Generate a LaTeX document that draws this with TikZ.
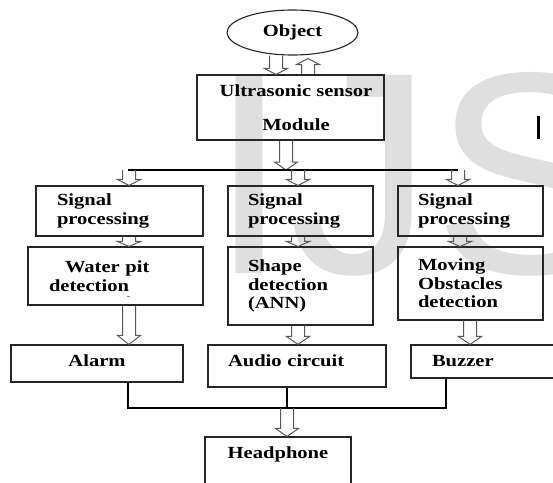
\documentclass[tikz,border=0pt]{standalone}
\usepackage{fontspec}
\setmainfont[FakeStretch=1.21]{Liberation Serif}
\newfontfamily\wmfont{Liberation Sans}
\usetikzlibrary{calc,shapes.geometric}
\newcommand\harrdown[3][7]{\draw[harr] let \p1=#2, \p2=#3 in
 (\x1-6.5pt,\y1) -- (\x1-6.5pt,\y2+#1pt) -- (\x1-11.5pt,\y2+#1pt) -- (\x1,\y2)
 -- (\x1+11.5pt,\y2+#1pt) -- (\x1+6.5pt,\y2+#1pt) -- (\x1+6.5pt,\y1);}
\newcommand\harrup[3][7]{\draw[harr] let \p1=#2, \p2=#3 in
 (\x1-6.5pt,\y1) -- (\x1-6.5pt,\y2-#1pt) -- (\x1-11.5pt,\y2-#1pt) -- (\x1,\y2)
 -- (\x1+11.5pt,\y2-#1pt) -- (\x1+6.5pt,\y2-#1pt) -- (\x1+6.5pt,\y1);}
\tikzset{
  box/.style={draw=black!85, line width=1.1pt, inner sep=0pt},
  conn/.style={draw=black, line width=1.1pt},
  harr/.style={draw=black!65, line width=1pt, line join=miter},
}
\begin{document}
\begin{tikzpicture}[x=1pt, y=-1pt, every node/.style={font=\fontsize{17}{18.5}\selectfont\bfseries}]
\useasboundingbox (0,0) rectangle (553,482);
\clip (0,0) rectangle (553,482);
% watermark
\node[anchor=base west, inner sep=0pt, text=gray!25, font=\wmfont\fontsize{288}{288}\selectfont] (wm) at (209,273) {IJS};
\fill (536.5,116) rectangle (540,139);
% nodes
\node[box, ellipse, minimum width=131pt, minimum height=45pt] (obj) at (292.5,32.5) {Object};
\node[box, minimum width=187pt, minimum height=65pt, align=center] (ultra) at (290.5,107.5)
  {\hspace*{11pt}Ultrasonic sensor\\[15.5pt]\hspace*{11pt}Module};
\node[box, minimum width=167pt, minimum height=50pt, text width=125pt, align=left] (sp1) at (119.5,211) {Signal\\processing};
\node[box, minimum width=145pt, minimum height=50pt, text width=105pt, align=left] (sp2) at (300.5,211) {Signal\\processing};
\node[box, minimum width=145pt, minimum height=50pt, text width=105pt, align=left] (sp3) at (470.5,211) {Signal\\processing};
\node[box, minimum width=175pt, minimum height=58pt, text width=133pt, align=left] (d1) at (115.5,276) {\hspace*{16pt}Water pit\\detection};
\node[box, minimum width=145pt, minimum height=78pt, text width=105pt, align=left] (d2) at (300.5,286) {Shape\\detection\\(ANN)};
\node[box, minimum width=145pt, minimum height=73pt, text width=105pt, align=left] (d3) at (470.5,283.5) {Moving\\Obstacles\\detection};
\fill[gray] (127,295.5) rectangle (129.5,296.8);
\node[box, minimum width=172pt, text height=21pt, text depth=16pt] (alarm) at (97,363.5) {Alarm};
\node[box, minimum width=178pt, text width=138pt, align=left, text height=21pt, text depth=21pt] (audio) at (297,366) {Audio circuit};
\node[box, minimum width=154pt, text width=112pt, align=left, text height=21pt, text depth=12pt] (buzzer) at (488,361.5) {Buzzer};
\node[box, minimum width=146pt, text height=21pt, text depth=42pt] (head) at (278,468.5) {Headphone};
% coordinates
\coordinate (bus) at (286,170);
\coordinate (busL) at (128,170);
\coordinate (busR) at (458,170);
\coordinate (jn) at (287,408);
% connectors
\harrdown[6]{($(obj.south)+(-16.5,0)$)}{(ultra.north)}
\harrup[6]{($(ultra.north)+(17.5,0)$)}{($(obj.south)+(0,3)$)}
\harrdown[8]{($(ultra.south)+(-4.5,0)$)}{(bus)}
\draw[conn] (busL) -- (busR);
\harrdown[6]{($(busL)+(1,0)$)}{(sp1.north)}
\harrdown[6]{($(bus)+(12,0)$)}{(sp2.north)}
\harrdown[6]{(busR)}{(sp3.north)}
\harrdown[5]{($(sp1.south)+(9.5,0)$)}{(d1.north)}
\harrdown[5]{($(sp2.south)+(-2.5,0)$)}{(d2.north)}
\harrdown[5]{($(sp3.south)+(-10.5,0)$)}{(d3.north)}
\harrdown[9]{($(d1.south)+(13.5,0)$)}{(alarm.north)}
\harrdown[8]{($(d2.south)+(-2.5,0)$)}{(audio.north)}
\harrdown[8]{($(d3.south)+(-0.5,0)$)}{(buzzer.north)}
\draw[conn] ($(alarm.south)+(31,0)$) |- (jn);
\draw[conn] ($(buzzer.south)+(-42,0)$) |- (jn);
\draw[conn] ($(audio.south)+(-10,0)$) -- (jn);
\harrdown[8]{(jn)}{(head.north)}
\end{tikzpicture}
\end{document}
